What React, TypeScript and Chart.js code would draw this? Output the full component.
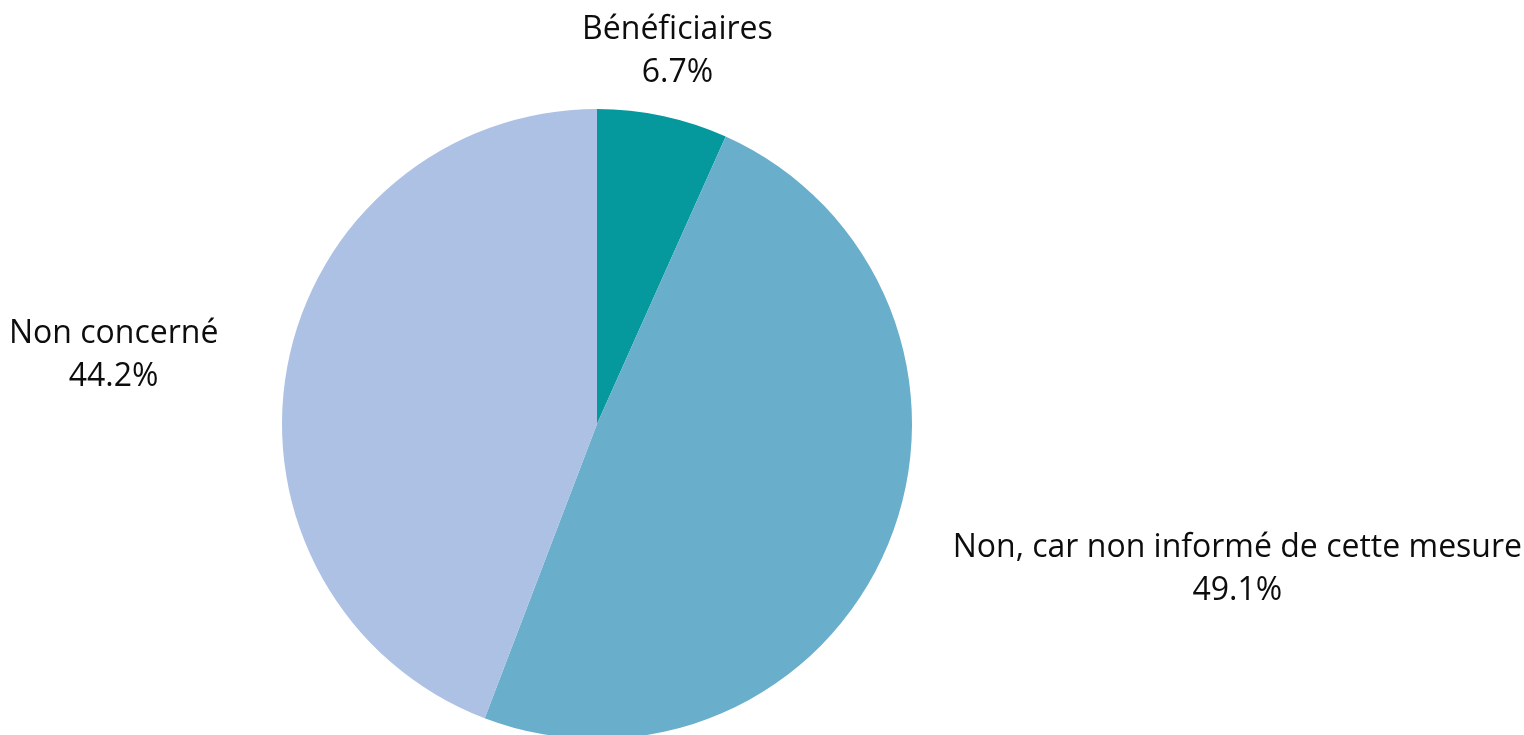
import React, { useEffect, useRef } from "react";
import { Chart, registerables } from "chart.js";

Chart.register(...registerables);

const categories = ["Bénéficiaires", "Non, car non informé de cette mesure", "Non concerné"];
const values = [6.7, 49.1, 44.2];
const valueLabels = ["6.7%", "49.1%", "44.2%"];
const colors = ["#05999E", "#69AECA", "#ACC1E3"];

const FONT = "32px 'Open Sans', 'Noto Sans', sans-serif";

const labelPlugin = {
  id: "outerLabels",
  afterDraw(chart: any) {
    const ctx = chart.ctx;
    const meta = chart.getDatasetMeta(0);
    ctx.save();
    ctx.font = FONT;
    ctx.fillStyle = "#0d0d0d";
    ctx.textBaseline = "middle";
    const lineH = 43;
    meta.data.forEach((arc: any, i: number) => {
      const mid = (arc.startAngle + arc.endAngle) / 2;
      const r = arc.outerRadius;
      const c = Math.cos(mid);
      const s = Math.sin(mid);
      const ax = arc.x + c * (r + 70);
      const ay = arc.y + s * (r + 23);
      const h = lineH * 2;
      const cy = ay + s * (h / 2);
      let align: CanvasTextAlign = "center";
      if (Math.abs(c) >= 0.5) align = c > 0 ? "left" : "right";
      const lines = [categories[i], valueLabels[i]];
      const widths = lines.map((l) => ctx.measureText(l).width);
      const bw = Math.max(...widths);
      let centerX = ax;
      if (align === "left") centerX = ax + bw / 2;
      if (align === "right") centerX = ax - bw / 2;
      ctx.textAlign = "center";
      lines.forEach((l, k) => {
        ctx.fillText(l, centerX, cy + (k - 0.5) * lineH);
      });
    });
    ctx.restore();
  },
};

export default function App() {
  const ref = useRef<HTMLCanvasElement>(null);
  useEffect(() => {
    document.body.style.overflow = "hidden";
    const chart = new Chart(ref.current as HTMLCanvasElement, {
      type: "pie",
      data: {
        labels: categories,
        datasets: [
          {
            data: values,
            backgroundColor: colors,
            borderWidth: 0,
          },
        ],
      },
      options: {
        animation: false,
        responsive: false,
        layout: { padding: { left: 282, right: 612, top: 109, bottom: 21 } },
        plugins: {
          legend: { display: false },
          tooltip: { enabled: false },
        },
      },
      plugins: [labelPlugin],
    });
    return () => chart.destroy();
  }, []);
  return (
    <div style={{ position: "fixed", left: 0, top: 0, width: 1524, height: 735, overflow: "hidden", background: "#fff" }}>
      <canvas ref={ref} width={1524} height={760} style={{ display: "block" }} />
    </div>
  );
}
